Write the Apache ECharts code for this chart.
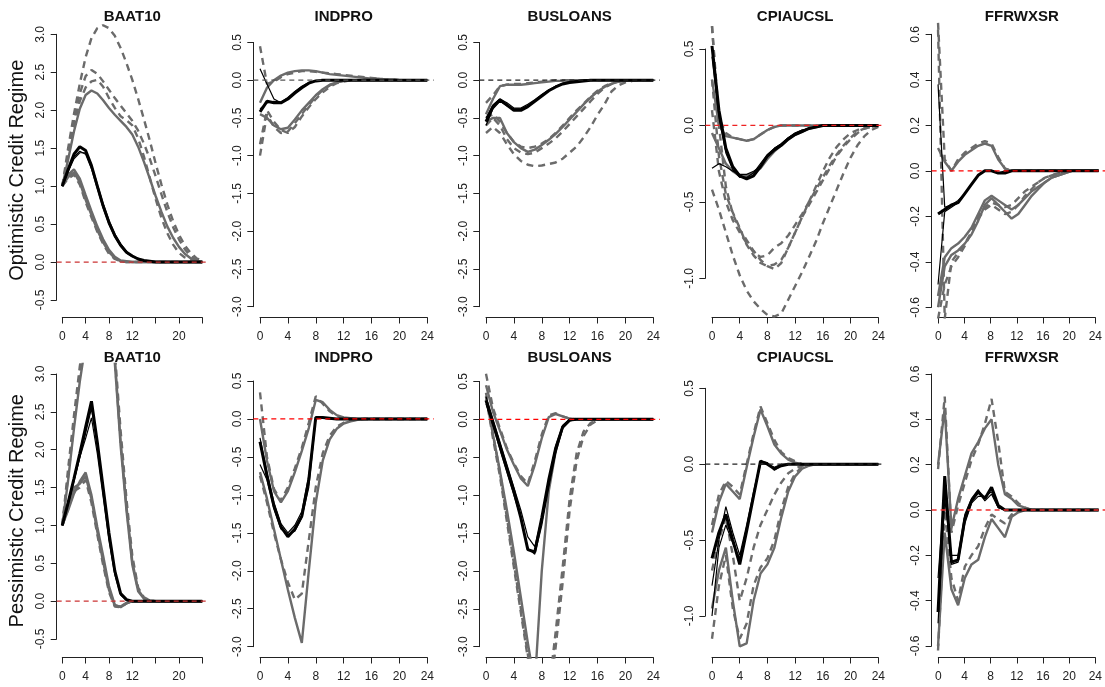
<!DOCTYPE html>
<html>
<head>
<meta charset="utf-8">
<title>Impulse responses by credit regime</title>
<script src="https://cdn.jsdelivr.net/npm/echarts@6.0.0/dist/echarts.min.js"></script>
<style>html,body{margin:0;padding:0;background:#fff;}#chart{width:1105px;height:687px;}</style>
</head>
<body>
<div id="chart"></div>
<script>
// ---------------- data ----------------
const horizon = [0,1,2,3,4,5,6,7,8,9,10,11,12,13,14,15,16,17,18,19,20,21,22,23,24];
const variables = ['BAAT10','INDPRO','BUSLOANS','CPIAUCSL','FFRWXSR'];
const regimes = ['Optimistic Credit Regime','Pessimistic Credit Regime'];
const xTickLabels = [0,4,8,12,16,20,24];
const xTickLabelsNarrow = [0,4,8,12,20];
const yTicksBAAT10 = [-0.5,0.0,0.5,1.0,1.5,2.0,2.5,3.0];
const yTicksWide = [-3.0,-2.5,-2.0,-1.5,-1.0,-0.5,0.0,0.5];
const yTicksCPI = [-1.0,-0.5,0.0,0.5];
const yTicksFFR = [-0.6,-0.4,-0.2,0.0,0.2,0.4,0.6];
const zeroLevel = 0;

// Optimistic regime - BAAT10
const oBaatMed  = [1.00,1.22,1.42,1.52,1.47, 1.27,1.00,0.74,0.52,0.35, 0.22,0.13,0.08,0.04,0.02, 0.01,0,0,0,0, 0,0,0,0,0];
const oBaatMedA = [1.00,1.20,1.38,1.46,1.42, 1.23,0.97,0.71,0.50,0.33, 0.21,0.12,0.07,0.04,0.02, 0.01,0,0,0,0, 0,0,0,0,0];
const oBaatMedB = [1.00,1.19,1.36,1.44,1.44, 1.28,1.03,0.77,0.55,0.37, 0.24,0.14,0.08,0.05,0.02, 0.01,0,0,0,0, 0,0,0,0,0];
const oBaatLo1  = [1.00,1.15,1.22,1.10,0.88, 0.67,0.47,0.30,0.16,0.07, 0.02,0.01,0,0,0, 0,0,0,0,0, 0,0,0,0,0];
const oBaatLo2  = [1.00,1.12,1.18,1.05,0.82, 0.62,0.42,0.26,0.13,0.05, 0.01,0,0,0,0, 0,0,0,0,0, 0,0,0,0,0];
const oBaatHi   = [1.00,1.35,1.72,2.02,2.20, 2.26,2.22,2.13,2.03,1.94, 1.86,1.78,1.68,1.52,1.32, 1.10,0.87,0.66,0.47,0.32, 0.20,0.11,0.05,0.02,0];
const oBaatD1   = [1.00,1.50,1.95,2.35,2.70, 2.95,3.08,3.12,3.08,2.98, 2.82,2.62,2.40,2.15,1.88, 1.60,1.30,1.02,0.76,0.54, 0.36,0.22,0.12,0.05,0.02];
const oBaatD2   = [1.00,1.42,1.88,2.22,2.45, 2.53,2.48,2.38,2.27,2.16, 2.06,1.96,1.86,1.73,1.56, 1.36,1.13,0.89,0.66,0.46, 0.30,0.17,0.08,0.03,0.01];
const oBaatD3   = [1.00,1.38,1.80,2.12,2.30, 2.38,2.40,2.31,2.16,2.03, 1.92,1.87,1.80,1.63,1.39, 1.11,0.83,0.58,0.38,0.23, 0.12,0.06,0.03,0.01,0];
const oBaatD4   = [1.00,1.10,1.15,1.02,0.79, 0.59,0.40,0.24,0.11,0.04, 0.01,0,0,0,0, 0,0,0,0,0, 0,0,0,0,0];

// Optimistic regime - INDPRO
const oIndMed  = [-0.42,-0.28,-0.30,-0.30,-0.25, -0.17,-0.10,-0.04,-0.01,0, 0,0,0,0,0, 0,0,0,0,0, 0,0,0,0,0];
const oIndMedA = [0.15,-0.05,-0.25,-0.30,-0.24, -0.16,-0.09,-0.04,-0.01,0, 0,0,0,0,0, 0,0,0,0,0, 0,0,0,0,0];
const oIndMedB = [-0.38,-0.30,-0.28,-0.29,-0.23, -0.15,-0.08,-0.03,-0.01,0, 0,0,0,0,0, 0,0,0,0,0, 0,0,0,0,0];
const oIndHi   = [-0.30,-0.10,0.00,0.06,0.10, 0.12,0.13,0.13,0.12,0.10, 0.08,0.07,0.06,0.05,0.04, 0.03,0.02,0.02,0.01,0.01, 0,0,0,0,0];
const oIndLo   = [-0.45,-0.50,-0.60,-0.65,-0.63, -0.52,-0.40,-0.30,-0.20,-0.12, -0.06,-0.03,-0.01,0,0, 0,0,0,0,0, 0,0,0,0,0];
const oIndD1   = [0.45,-0.05,-0.02,0.04,0.08, 0.10,0.12,0.12,0.11,0.10, 0.09,0.08,0.07,0.06,0.05, 0.04,0.03,0.02,0.01,0.01, 0,0,0,0,0];
const oIndD2   = [-1.00,-0.45,-0.62,-0.70,-0.68, -0.57,-0.45,-0.33,-0.22,-0.13, -0.07,-0.03,-0.01,0,0, 0,0,0,0,0, 0,0,0,0,0];
const oIndD3   = [-0.85,-0.40,-0.55,-0.66,-0.70, -0.62,-0.48,-0.36,-0.25,-0.16, -0.09,-0.04,-0.02,0,0, 0,0,0,0,0, 0,0,0,0,0];

// Optimistic regime - BUSLOANS
const oBusMed  = [-0.55,-0.35,-0.26,-0.33,-0.40, -0.40,-0.35,-0.28,-0.21,-0.14, -0.09,-0.05,-0.03,-0.02,-0.01, 0,0,0,0,0, 0,0,0,0,0];
const oBusMedA = [-0.50,-0.33,-0.25,-0.30,-0.37, -0.37,-0.32,-0.26,-0.19,-0.13, -0.08,-0.05,-0.03,-0.01,0, 0,0,0,0,0, 0,0,0,0,0];
const oBusMedB = [-0.60,-0.38,-0.28,-0.34,-0.38, -0.38,-0.34,-0.27,-0.20,-0.13, -0.08,-0.04,-0.02,-0.01,0, 0,0,0,0,0, 0,0,0,0,0];
const oBusHi   = [-0.45,-0.25,-0.08,-0.06,-0.06, -0.06,-0.05,-0.04,-0.03,-0.02, -0.01,-0.01,0,0,0, 0,0,0,0,0, 0,0,0,0,0];
const oBusLo   = [-0.55,-0.50,-0.50,-0.70,-0.82, -0.90,-0.95,-0.92,-0.86,-0.79, -0.71,-0.62,-0.52,-0.42,-0.32, -0.23,-0.15,-0.09,-0.05,-0.02, -0.01,0,0,0,0];
const oBusD1   = [-0.30,-0.20,-0.08,-0.06,-0.05, -0.05,-0.04,-0.03,-0.02,-0.01, 0,0,0,0,0, 0,0,0,0,0, 0,0,0,0,0];
const oBusD2   = [-0.70,-0.62,-0.70,-0.85,-0.98, -1.07,-1.12,-1.14,-1.13,-1.11, -1.09,-1.04,-0.96,-0.88,-0.76, -0.62,-0.46,-0.32,-0.15,-0.07, -0.03,-0.01,0,0,0];
const oBusD3   = [-0.60,-0.50,-0.60,-0.78,-0.90, -0.96,-0.98,-0.96,-0.90,-0.84, -0.77,-0.68,-0.58,-0.48,-0.38, -0.28,-0.18,-0.10,-0.05,-0.02, -0.01,0,0,0,0];
const oBusD4   = [-0.50,-0.45,-0.55,-0.70,-0.82, -0.88,-0.90,-0.88,-0.84,-0.78, -0.70,-0.60,-0.50,-0.40,-0.31, -0.22,-0.14,-0.08,-0.04,-0.02, -0.01,0,0,0,0];

// Optimistic regime - CPIAUCSL
const oCpiMed  = [0.52,0.10,-0.15,-0.27,-0.33, -0.35,-0.33,-0.27,-0.20,-0.16, -0.13,-0.09,-0.06,-0.04,-0.02, -0.01,0,0,0,0, 0,0,0,0,0];
const oCpiMedA = [-0.28,-0.25,-0.27,-0.30,-0.32, -0.32,-0.30,-0.27,-0.20,-0.15, -0.12,-0.08,-0.05,-0.03,-0.02, -0.01,0,0,0,0, 0,0,0,0,0];
const oCpiMedB = [0.45,0.05,-0.18,-0.29,-0.34, -0.34,-0.31,-0.25,-0.19,-0.15, -0.12,-0.08,-0.05,-0.03,-0.02, -0.01,0,0,0,0, 0,0,0,0,0];
const oCpiHi   = [0.30,0.00,-0.07,-0.08,-0.09, -0.10,-0.09,-0.06,-0.03,-0.01, 0,0,0,0,0, 0,0,0,0,0, 0,0,0,0,0];
const oCpiLo   = [-0.05,-0.15,-0.25,-0.30,-0.33, -0.33,-0.31,-0.28,-0.22,-0.17, -0.13,-0.09,-0.06,-0.04,-0.02, -0.01,0,0,0,0, 0,0,0,0,0];
const oCpiD1   = [0.65,0.05,-0.05,-0.08,-0.09, -0.10,-0.09,-0.06,-0.03,-0.01, 0,0,0,0,0, 0,0,0,0,0, 0,0,0,0,0];
const oCpiD2   = [-0.42,-0.55,-0.70,-0.85,-0.98, -1.08,-1.15,-1.20,-1.24,-1.25, -1.23,-1.14,-1.05,-0.96,-0.86, -0.76,-0.64,-0.53,-0.42,-0.31, -0.21,-0.13,-0.07,-0.03,-0.01];
const oCpiD3   = [0.65,0.00,-0.40,-0.58,-0.68, -0.75,-0.82,-0.88,-0.92,-0.94, -0.90,-0.80,-0.70,-0.60,-0.50, -0.40,-0.30,-0.21,-0.14,-0.09, -0.05,-0.03,-0.01,0,0];
const oCpiD4   = [0.30,-0.20,-0.45,-0.57,-0.67, -0.78,-0.85,-0.90,-0.92,-0.91, -0.88,-0.80,-0.70,-0.60,-0.52, -0.44,-0.36,-0.28,-0.20,-0.14, -0.09,-0.05,-0.02,-0.01,0];
const oCpiD5   = [0.10,-0.30,-0.50,-0.62,-0.70, -0.77,-0.83,-0.86,-0.85,-0.80, -0.77,-0.72,-0.65,-0.58,-0.50, -0.42,-0.34,-0.26,-0.19,-0.13, -0.08,-0.04,-0.02,-0.01,0];

// Optimistic regime - FFRWXSR
const oFfrMed  = [-0.19,-0.17,-0.15,-0.14,-0.10, -0.06,-0.02,0.00,0.00,-0.01, -0.01,0,0,0,0, 0,0,0,0,0, 0,0,0,0,0];
const oFfrMedA = [0.38,-0.16,-0.15,-0.13,-0.10, -0.06,-0.02,0.00,0.00,-0.01, -0.01,0,0,0,0, 0,0,0,0,0, 0,0,0,0,0];
const oFfrMedB = [-0.50,-0.18,-0.16,-0.14,-0.10, -0.06,-0.02,0.00,0.00,-0.01, 0,0,0,0,0, 0,0,0,0,0, 0,0,0,0,0];
const oFfrHi   = [0.10,0.04,0.00,0.04,0.07, 0.09,0.11,0.12,0.11,0.05, 0.01,0,0,0,0, 0,0,0,0,0, 0,0,0,0,0];
const oFfrLo1  = [-0.60,-0.42,-0.37,-0.35,-0.32, -0.28,-0.22,-0.15,-0.12,-0.15, -0.18,-0.21,-0.19,-0.15,-0.11, -0.08,-0.05,-0.03,-0.02,-0.01, 0,0,0,0,0];
const oFfrLo2  = [-0.55,-0.38,-0.34,-0.32,-0.29, -0.25,-0.19,-0.13,-0.11,-0.13, -0.15,-0.17,-0.15,-0.12,-0.09, -0.07,-0.05,-0.03,-0.02,-0.01, 0,0,0,0,0];
const oFfrD1   = [0.65,0.05,0.00,0.05,0.08, 0.10,0.12,0.13,0.12,0.06, 0.01,0,0,0,0, 0,0,0,0,0, 0,0,0,0,0];
const oFfrD2   = [-0.65,-0.50,-0.42,-0.38,-0.33, -0.27,-0.20,-0.16,-0.14,-0.15, -0.16,-0.15,-0.12,-0.09,-0.07, -0.05,-0.03,-0.02,-0.01,0, 0,0,0,0,0];
const oFfrD3   = [0.62,-0.65,-0.40,-0.36,-0.32, -0.27,-0.21,-0.17,-0.15,-0.17, -0.19,-0.18,-0.15,-0.11,-0.08, -0.05,-0.03,-0.02,-0.01,0, 0,0,0,0,0];

// Pessimistic regime - BAAT10
const pBaatMed  = [1.00,1.30,1.62,1.95,2.30, 2.64,2.10,1.50,0.90,0.40, 0.10,0.02,0,0,0, 0,0,0,0,0, 0,0,0,0,0];
const pBaatMedA = [1.00,1.28,1.58,1.90,2.22, 2.55,2.05,1.45,0.85,0.38, 0.09,0.02,0,0,0, 0,0,0,0,0, 0,0,0,0,0];
const pBaatMedB = [1.00,1.30,1.60,1.90,2.15, 2.42,1.95,1.38,0.80,0.35, 0.08,0.01,0,0,0, 0,0,0,0,0, 0,0,0,0,0];
const pBaatLo1  = [1.00,1.20,1.42,1.58,1.70, 1.40,0.98,0.60,0.20,-0.05, -0.08,-0.03,0,0,0, 0,0,0,0,0, 0,0,0,0,0];
const pBaatLo2  = [1.00,1.25,1.50,1.55,1.65, 1.35,0.92,0.52,0.15,-0.06, -0.07,-0.02,0,0,0, 0,0,0,0,0, 0,0,0,0,0];
const pBaatHi   = [1.00,1.60,2.28,2.90,3.40, 3.80,4.00,4.00,3.80,3.15, 2.05,1.20,0.48,0.13,0.03, 0,0,0,0,0, 0,0,0,0,0];
const pBaatD1   = [1.00,1.75,2.45,3.10,3.60, 4.00,4.30,4.30,4.00,3.20, 2.10,1.25,0.52,0.15,0.04, 0.01,0,0,0,0, 0,0,0,0,0];
const pBaatD2   = [1.00,1.65,2.35,3.00,3.50, 3.90,4.10,4.10,3.90,3.30, 2.25,1.35,0.60,0.18,0.05, 0.01,0,0,0,0, 0,0,0,0,0];
const pBaatD3   = [1.00,1.22,1.45,1.50,1.60, 1.30,0.88,0.48,0.12,-0.07, -0.08,-0.03,0,0,0, 0,0,0,0,0, 0,0,0,0,0];

// Pessimistic regime - INDPRO
const pIndMed  = [-0.30,-0.75,-1.15,-1.42,-1.55, -1.45,-1.28,-0.80,0.02,0.02, 0.01,0,0,0,0, 0,0,0,0,0, 0,0,0,0,0];
const pIndMedA = [-0.25,-0.70,-1.10,-1.38,-1.50, -1.40,-1.22,-0.75,0.02,0.01, 0,0,0,0,0, 0,0,0,0,0, 0,0,0,0,0];
const pIndMedB = [-0.60,-0.80,-1.18,-1.45,-1.52, -1.48,-1.30,-0.90,0.00,0.01, 0,0,0,0,0, 0,0,0,0,0, 0,0,0,0,0];
const pIndHi   = [0.00,-0.55,-0.95,-1.10,-0.95, -0.70,-0.42,-0.12,0.25,0.22, 0.12,0.05,0.02,0.01,0, 0,0,0,0,0, 0,0,0,0,0];
const pIndLo   = [-0.70,-1.05,-1.45,-1.85,-2.25, -2.62,-2.95,-2.00,-1.10,-0.55, -0.27,-0.13,-0.06,-0.03,-0.01, 0,0,0,0,0, 0,0,0,0,0];
const pIndD1   = [0.35,-0.50,-0.92,-1.08,-0.90, -0.65,-0.38,-0.05,0.30,0.20, 0.10,0.04,0.01,0,0, 0,0,0,0,0, 0,0,0,0,0];
const pIndD2   = [-0.75,-1.10,-1.50,-1.85,-2.15, -2.38,-2.30,-1.60,-0.90,-0.45, -0.22,-0.10,-0.05,-0.02,-0.01, 0,0,0,0,0, 0,0,0,0,0];

// Pessimistic regime - BUSLOANS
const pBusMed  = [0.25,-0.05,-0.35,-0.65,-0.95, -1.30,-1.72,-1.75,-1.30,-0.80, -0.38,-0.10,-0.01,0,0, 0,0,0,0,0, 0,0,0,0,0];
const pBusMedA = [0.30,0.00,-0.30,-0.60,-0.90, -1.20,-1.55,-1.68,-1.30,-0.80, -0.35,-0.08,0,0,0, 0,0,0,0,0, 0,0,0,0,0];
const pBusMedB = [0.20,-0.08,-0.40,-0.70,-1.00, -1.30,-1.70,-1.78,-1.40,-0.90, -0.45,-0.12,-0.02,0,0, 0,0,0,0,0, 0,0,0,0,0];
const pBusHi   = [0.45,0.10,-0.15,-0.40,-0.60, -0.78,-0.88,-0.60,-0.25,0.03, 0.07,0.04,0.01,0,0, 0,0,0,0,0, 0,0,0,0,0];
const pBusLo   = [0.30,-0.20,-0.68,-1.20,-1.75, -2.35,-2.95,-3.50,-2.00,-0.95, -0.42,-0.10,-0.01,0,0, 0,0,0,0,0, 0,0,0,0,0];
const pBusD1   = [0.60,0.15,-0.12,-0.38,-0.58, -0.75,-0.85,-0.55,-0.20,0.05, 0.08,0.04,0.01,0,0, 0,0,0,0,0, 0,0,0,0,0];
const pBusD2   = [0.35,-0.20,-0.70,-1.30,-1.90, -2.50,-3.10,-3.70,-4.00,-3.60, -2.80,-1.95,-1.05,-0.45,-0.16, -0.05,0,0,0,0, 0,0,0,0,0];
const pBusD3   = [0.30,-0.25,-0.75,-1.35,-1.95, -2.55,-3.15,-3.75,-4.10,-3.75, -3.00,-2.15,-1.20,-0.55,-0.22, -0.07,-0.01,0,0,0, 0,0,0,0,0];

// Pessimistic regime - CPIAUCSL
const pCpiMed  = [-0.62,-0.45,-0.33,-0.50,-0.66, -0.44,-0.21,0.02,0.00,-0.03, -0.01,0,0,0,0, 0,0,0,0,0, 0,0,0,0,0];
const pCpiMedA = [-0.80,-0.50,-0.28,-0.45,-0.60, -0.40,-0.18,0.02,0.01,-0.04, -0.01,0,0,0,0, 0,0,0,0,0, 0,0,0,0,0];
const pCpiMedB = [-1.00,-0.55,-0.40,-0.52,-0.62, -0.42,-0.20,0.00,0.00,-0.02, 0,0,0,0,0, 0,0,0,0,0, 0,0,0,0,0];
const pCpiHi   = [-0.45,-0.25,-0.13,-0.18,-0.23, -0.02,0.18,0.36,0.25,0.13, 0.07,0.03,0.01,0,0, 0,0,0,0,0, 0,0,0,0,0];
const pCpiLo   = [-0.95,-0.70,-0.55,-0.90,-1.20, -1.18,-0.90,-0.72,-0.66,-0.55, -0.35,-0.18,-0.08,-0.03,-0.01, 0,0,0,0,0, 0,0,0,0,0];
const pCpiD1   = [-0.40,-0.20,-0.11,-0.15,-0.20, 0.00,0.20,0.38,0.27,0.16, 0.08,0.04,0.02,0,0, 0,0,0,0,0, 0,0,0,0,0];
const pCpiD2   = [-1.15,-0.80,-0.60,-0.95,-1.15, -1.05,-0.80,-0.68,-0.62,-0.50, -0.30,-0.15,-0.06,-0.02,0, 0,0,0,0,0, 0,0,0,0,0];
const pCpiD3   = [-0.70,-0.50,-0.35,-0.60,-0.90, -0.75,-0.55,-0.40,-0.30,-0.20, -0.12,-0.06,-0.03,-0.01,0, 0,0,0,0,0, 0,0,0,0,0];

// Pessimistic regime - FFRWXSR
const pFfrMed  = [-0.45,0.15,-0.23,-0.22,-0.04, 0.04,0.08,0.05,0.10,0.02, 0.00,0,0,0,0, 0,0,0,0,0, 0,0,0,0,0];
const pFfrMedA = [-0.30,0.10,-0.24,-0.23,-0.06, 0.03,0.06,0.06,0.08,0.01, 0,0,0,0,0, 0,0,0,0,0, 0,0,0,0,0];
const pFfrMedB = [-0.50,0.05,-0.20,-0.20,-0.02, 0.05,0.09,0.04,0.07,0.01, 0,0,0,0,0, 0,0,0,0,0, 0,0,0,0,0];
const pFfrHi   = [0.20,0.45,-0.08,0.05,0.15, 0.25,0.30,0.36,0.40,0.20, 0.07,0.05,0.02,0.01,0, 0,0,0,0,0, 0,0,0,0,0];
const pFfrLo   = [-0.60,-0.10,-0.35,-0.42,-0.30, -0.24,-0.22,-0.12,-0.04,-0.08, -0.12,-0.03,-0.01,0,0, 0,0,0,0,0, 0,0,0,0,0];
const pFfrD1   = [0.18,0.50,-0.10,0.02,0.12, 0.22,0.29,0.38,0.49,0.30, 0.08,0.06,0.03,0.01,0, 0,0,0,0,0, 0,0,0,0,0];
const pFfrD2   = [-0.62,0.00,-0.30,-0.40,-0.25, -0.20,-0.16,-0.08,-0.02,-0.04, -0.06,-0.02,0,0,0, 0,0,0,0,0, 0,0,0,0,0];

const panels = [
  {regime:0, v:0, yTicks:yTicksBAAT10, median:oBaatMed, medians:[oBaatMedA,oBaatMedB], solid:[oBaatLo1,oBaatLo2,oBaatHi], dashed:[oBaatD1,oBaatD2,oBaatD3,oBaatD4]},
  {regime:0, v:1, yTicks:yTicksWide, median:oIndMed, medians:[oIndMedA,oIndMedB], solid:[oIndHi,oIndLo], dashed:[oIndD1,oIndD2,oIndD3]},
  {regime:0, v:2, yTicks:yTicksWide, median:oBusMed, medians:[oBusMedA,oBusMedB], solid:[oBusHi,oBusLo], dashed:[oBusD1,oBusD2,oBusD3,oBusD4]},
  {regime:0, v:3, yTicks:yTicksCPI, median:oCpiMed, medians:[oCpiMedA,oCpiMedB], solid:[oCpiHi,oCpiLo], dashed:[oCpiD1,oCpiD2,oCpiD3,oCpiD4,oCpiD5]},
  {regime:0, v:4, yTicks:yTicksFFR, median:oFfrMed, medians:[oFfrMedA,oFfrMedB], solid:[oFfrHi,oFfrLo1,oFfrLo2], dashed:[oFfrD1,oFfrD2,oFfrD3]},
  {regime:1, v:0, yTicks:yTicksBAAT10, median:pBaatMed, medians:[pBaatMedA,pBaatMedB], solid:[pBaatLo1,pBaatLo2,pBaatHi], dashed:[pBaatD1,pBaatD2,pBaatD3]},
  {regime:1, v:1, yTicks:yTicksWide, median:pIndMed, medians:[pIndMedA,pIndMedB], solid:[pIndHi,pIndLo], dashed:[pIndD1,pIndD2]},
  {regime:1, v:2, yTicks:yTicksWide, median:pBusMed, medians:[pBusMedA,pBusMedB], solid:[pBusHi,pBusLo], dashed:[pBusD1,pBusD2,pBusD3]},
  {regime:1, v:3, yTicks:yTicksCPI, median:pCpiMed, medians:[pCpiMedA,pCpiMedB], solid:[pCpiHi,pCpiLo], dashed:[pCpiD1,pCpiD2,pCpiD3]},
  {regime:1, v:4, yTicks:yTicksFFR, median:pFfrMed, medians:[pFfrMedA,pFfrMedB], solid:[pFfrHi,pFfrLo], dashed:[pFfrD1,pFfrD2]}
];

// ---------------- layout & style ----------------
const colX0  = [62.3, 260, 486, 712, 938.3];      // pixel of horizon 0
const colX24 = [202.3, 427.3, 653.3, 878.3, 1105.3]; // pixel of horizon 24
const rowTop = [23, 364];
const rowBottom = [317.5, 657.5];
const tickPix = [[34.3,300],[42.4,306.7],[42.4,306.7],[49,278.3],[34.3,307.3],
                 [374,639],[381,646.7],[381.4,646.7],[388.3,616],[374,646]];
const zeroColors = ['#cc3333','#555555','#222222','#ee2222','#ff0000',
                    '#cc3333','#ff0000','#ff0000','#222222','#f03030'];
const FONT = "'Liberation Sans', Arial, Helvetica, sans-serif";
const GRAY = '#6b6b6b';
const AXIS = '#222222';
const X_PAD = 0.96; // R's 4% axis extension of the 0..24 horizon

const grids = [], xAxes = [], yAxes = [], series = [], graphics = [];

function lineSeries(idx, data, style, z) {
  return {
    type: 'line', xAxisIndex: idx, yAxisIndex: idx, data: data,
    symbol: 'none', showSymbol: false, silent: true, clip: true,
    animation: false, lineStyle: style, itemStyle: {color: style.color}, z: z
  };
}
const pairs = arr => horizon.map((t, k) => [t, arr[k]]);

panels.forEach((p, i) => {
  const x0 = colX0[p.v], x24 = colX24[p.v];
  const ppu = (x24 - x0) / 24;
  const plotL = x0 - X_PAD * ppu, plotR = x24 + X_PAD * ppu;
  const top = rowTop[p.regime], bot = rowBottom[p.regime];
  const tMin = p.yTicks[0], tMax = p.yTicks[p.yTicks.length - 1];
  const pix = tickPix[i];
  const ppv = (pix[1] - pix[0]) / (tMax - tMin);
  const yMax = tMax + (pix[0] - top) / ppv;
  const yMin = tMin - (bot - pix[1]) / ppv;
  const xMin = horizon[0] - X_PAD, xMax = horizon[horizon.length - 1] + X_PAD;
  const labels = p.v === 0 ? xTickLabelsNarrow : xTickLabels;

  // axis grid (R-style axes spanning first to last tick)
  const ga = grids.length;
  grids.push({left: x0, top: pix[0], width: x24 - x0, height: pix[1] - pix[0]});
  xAxes.push({
    gridIndex: ga, type: 'value', min: 0, max: 24, interval: 4,
    offset: bot - pix[1],
    axisLine: {show: true, onZero: false, lineStyle: {color: AXIS, width: 1}},
    axisTick: {show: true, length: 6, inside: false, lineStyle: {color: AXIS}},
    axisLabel: {show: true, margin: 13, fontSize: 12, fontFamily: FONT, color: '#222',
      formatter: v => labels.indexOf(Math.round(v)) >= 0 ? String(Math.round(v)) : ''},
    splitLine: {show: false}
  });
  yAxes.push({
    gridIndex: ga, type: 'value', min: tMin, max: tMax,
    interval: +(p.yTicks[1] - p.yTicks[0]).toFixed(2),
    offset: x0 - plotL,
    axisLine: {show: true, onZero: false, lineStyle: {color: AXIS, width: 1}},
    axisTick: {show: true, length: 6, inside: false, lineStyle: {color: AXIS}},
    axisLabel: {show: true, rotate: 90, margin: 10, fontSize: 12, fontFamily: FONT, color: '#222',
      formatter: v => (Math.abs(v) < 1e-9 ? 0 : v).toFixed(1)},
    splitLine: {show: false}
  });

  // data grid = plot region
  const gd = grids.length;
  grids.push({left: plotL, top: top, width: plotR - plotL, height: bot - top});
  xAxes.push({gridIndex: gd, type: 'value', min: xMin, max: xMax, show: false, splitLine: {show: false}});
  yAxes.push({gridIndex: gd, type: 'value', min: yMin, max: yMax, show: false, splitLine: {show: false}});

  p.dashed.forEach(a => series.push(lineSeries(gd, pairs(a), {color: GRAY, width: 2.4, type: [7, 5]}, 2)));
  p.solid.forEach(a => series.push(lineSeries(gd, pairs(a), {color: GRAY, width: 2.4}, 3)));
  p.medians.forEach(a => series.push(lineSeries(gd, pairs(a), {color: '#000', width: 1.2}, 4)));
  series.push(lineSeries(gd, pairs(p.median), {color: '#000', width: 3}, 5));
  // horizontal reference line at zero across the whole plot region (like abline(h = 0))
  series.push(lineSeries(gd, [[xMin, zeroLevel], [xMax, zeroLevel]],
    {color: zeroColors[i], width: 1.3, type: [5, 4]}, 6));

  graphics.push({type: 'text', x: (plotL + plotR) / 2, y: top - 6, silent: true,
    style: {text: variables[p.v], font: 'bold 15px ' + FONT, fill: '#111', textAlign: 'center', textVerticalAlign: 'middle'}});
});

regimes.forEach((r, k) => {
  graphics.push({type: 'text', x: 17.5, y: (rowTop[k] + rowBottom[k]) / 2, rotation: Math.PI / 2, silent: true,
    style: {text: r, font: '20px ' + FONT, fill: '#111', textAlign: 'center', textVerticalAlign: 'middle'}});
});

const chart = echarts.init(document.getElementById('chart'), null, {renderer: 'canvas'});
chart.setOption({
  animation: false,
  backgroundColor: '#ffffff',
  grid: grids, xAxis: xAxes, yAxis: yAxes, series: series, graphic: graphics
});
</script>
</body>
</html>
